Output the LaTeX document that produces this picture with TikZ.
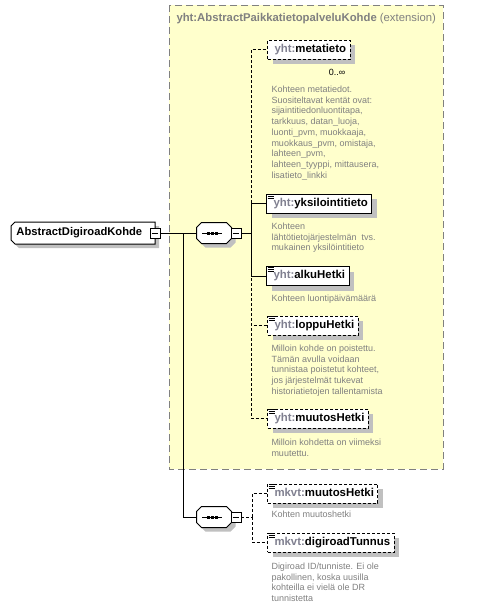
\documentclass[tikz,border=0pt]{standalone}
\usepackage{fontspec}
\setmainfont{Liberation Sans}
\usetikzlibrary{shadows}
\definecolor{ybg}{RGB}{255,255,204}
\definecolor{extc}{RGB}{128,128,128}
\definecolor{prefc}{RGB}{128,128,144}
\definecolor{descc}{RGB}{128,128,128}
\definecolor{shd}{RGB}{192,192,192}
\newcommand\pre[1]{\textcolor{prefc}{#1}}
\newcommand\elicon[1]{\draw[line width=0.8pt] ([shift={(1.5pt,-1pt)}]#1.north west) -- ++(6,0)
  ([shift={(1.5pt,-3pt)}]#1.north west) -- ++(6,0)
  ([shift={(1.5pt,-5pt)}]#1.north west) -- ++(6,0);}
% octagon outline around a node: name, chamfer, dx, dy
\newcommand\octpath[4]{([shift={(#2+#3,#4)}]#1.north west) -- ([shift={(-#2+#3,#4)}]#1.north east)
  -- ([shift={(#3,-#2+#4)}]#1.north east) -- ([shift={(#3,#2+#4)}]#1.south east)
  -- ([shift={(-#2+#3,#4)}]#1.south east) -- ([shift={(#2+#3,#4)}]#1.south west)
  -- ([shift={(#3,#2+#4)}]#1.south west) -- ([shift={(#3,-#2+#4)}]#1.north west) -- cycle}
% left-chamfered outline
\newcommand\lchpath[4]{([shift={(#2+#3,#4)}]#1.north west) -- ([shift={(#3,#4)}]#1.north east)
  -- ([shift={(#3,#4)}]#1.south east) -- ([shift={(#2+#3,#4)}]#1.south west)
  -- ([shift={(#3,#2+#4)}]#1.south west) -- ([shift={(#3,-#2+#4)}]#1.north west) -- cycle}
\newcommand\seqdraw[1]{\fill[shd] \octpath{#1}{5pt}{4pt}{-4pt};
  \draw[fill=white] \octpath{#1}{5pt}{0pt}{0pt};
  \draw ([xshift=-12pt]#1.center) -- ([xshift=8pt]#1.center);
  \foreach \d in {-6,-2,2}{\fill ([xshift=\d pt]#1.center) +(-1.5,-1.5) rectangle +(1.5,1.5);}}
\newcommand\minussign[1]{\draw ([xshift=2pt]#1.west) -- ([xshift=-2pt]#1.east);}
\begin{document}
\begin{tikzpicture}[x=1pt,y=-1pt,line width=1pt,
  elem/.style={draw=black, fill=white, anchor=west, inner xsep=4pt, inner ysep=0pt,
    text height=8pt, text depth=2.5pt, minimum height=19pt,
    font=\fontsize{11.4}{13}\selectfont\bfseries,
    drop shadow={shadow xshift=5pt, shadow yshift=-5pt, fill=shd, opacity=1}},
  optb/.style={dash pattern=on 3pt off 2pt},
  desc/.style={anchor=north west, inner sep=0pt, align=left, text=descc,
    font=\fontsize{9}{10.7}\selectfont},
  minusbox/.style={draw=black, fill=white, minimum size=10pt, inner sep=0pt, line width=0.8pt},
  seqbox/.style={rectangle, draw=none, minimum width=34pt, minimum height=20pt, inner sep=0pt},
  rootbox/.style={rectangle, draw=none, inner sep=0pt, text height=8pt, text depth=2.5pt,
    minimum height=21pt, anchor=west, font=\fontsize{11.2}{13}\selectfont\bfseries}
]
\useasboundingbox (0,0) rectangle (485,608);
\fill[white] (0,0) rectangle (485,608);
% extension box
\draw[fill=ybg, draw=extc, dash pattern=on 7pt off 4pt] (169,5) rectangle (443,469);
\node[anchor=west, inner sep=0pt, text=extc, font=\fontsize{11.3}{13}\selectfont] (extlbl) at (176,19)
  {\textbf{yht:AbstractPaikkatietopalveluKohde} (extension)};

% root
\node[rootbox] (root) at (11,233) {\makebox[143pt][l]{\phantom{\hspace{5pt}AbstractDigiroadKohde}}};
\fill[shd] \lchpath{root}{4pt}{4pt}{-4pt};
\draw[fill=white] \lchpath{root}{4pt}{0pt}{0pt};
\node[rootbox] (roottxt) at (11,233) {\makebox[143pt][l]{\hspace{5pt}AbstractDigiroadKohde}};
\node[minusbox] (m0) at (root.east) {};
\minussign{m0}

% sequence 1
\node[seqbox] (s1) at (214,233) {};
\seqdraw{s1}
\node[minusbox] (m1) at (236,233) {};
\minussign{m1}
\coordinate (j0) at (183,233);
\coordinate (j1) at (251,233);
\draw (m0.east) -- (s1.west);
\draw (m1.east) -- (j1);

% sequence 2
\node[seqbox] (s2) at (214,517) {};
\draw (j0) |- (s2.west);
\seqdraw{s2}
\node[minusbox] (m2) at (236,517) {};
\minussign{m2}
\coordinate (j2) at (252,517);
\draw[optb] (m2.east) -- (j2);

% elements group 1
\node[elem, optb] (meta) at (267,49.5) {\hspace{3pt}\pre{yht:}metatieto};
\node[elem] (yks) at (266,203.5) {\hspace{3pt}\pre{yht:}yksilointitieto};
\node[elem] (alku) at (266,276) {\hspace{3pt}\pre{yht:}alkuHetki};
\node[elem, optb] (loppu) at (267,325.5) {\hspace{3pt}\pre{yht:}loppuHetki};
\node[elem, optb] (muut) at (267,418.5) {\hspace{3pt}\pre{yht:}muutosHetki};
\elicon{yks}\elicon{alku}\elicon{loppu}\elicon{muut}
\node[inner sep=0pt, font=\fontsize{9}{11}\selectfont] (mult) at (337,72) {0..∞};

\draw[optb] (j1) |- (meta.west);
\draw[optb] (j1) |- (loppu.west);
\draw[optb] (j1) |- (muut.west);
\draw (j1) |- (yks.west);
\draw (j1) |- (alku.west);

% elements group 2
\node[elem, optb] (mkm) at (267,493.5) {\hspace{3pt}\pre{mkvt:}muutosHetki};
\node[elem, optb] (dig) at (267,542.5) {\hspace{3pt}\pre{mkvt:}digiroadTunnus};
\elicon{mkm}\elicon{dig}
\draw[optb] (j2) |- (mkm.west);
\draw[optb] (j2) |- (dig.west);

% descriptions
\node[desc] (dmeta) at (271,85) {\rule{0pt}{7pt}Kohteen metatiedot.\\Suositeltavat kentät ovat:\\sijaintitiedonluontitapa,\\tarkkuus, datan\_luoja,\\luonti\_pvm, muokkaaja,\\muokkaus\_pvm, omistaja,\\lahteen\_pvm,\\lahteen\_tyyppi, mittausera,\\lisatieto\_linkki};
\node[desc] (dyks) at (271,222) {\rule{0pt}{7pt}Kohteen\\lähtötietojärjestelmän\ \ tvs.\\mukainen yksilöintitieto};
\node[desc] (dalku) at (271,294) {\rule{0pt}{7pt}Kohteen luontipäivämäärä};
\node[desc] (dloppu) at (271,344) {\rule{0pt}{7pt}Milloin kohde on poistettu.\\Tämän avulla voidaan\\tunnistaa poistetut kohteet,\\jos järjestelmät tukevat\\historiatietojen tallentamista};
\node[desc] (dmuut) at (271,438) {\rule{0pt}{7pt}Milloin kohdetta on viimeksi\\muutettu.};
\node[desc] (dmkm) at (271,510) {\rule{0pt}{7pt}Kohten muutoshetki};
\node[desc] (ddig) at (271,562) {\rule{0pt}{7pt}Digiroad ID/tunniste. Ei ole\\pakollinen, koska uusilla\\kohteilla ei vielä ole DR\\tunnistetta};
\end{tikzpicture}
\end{document}
